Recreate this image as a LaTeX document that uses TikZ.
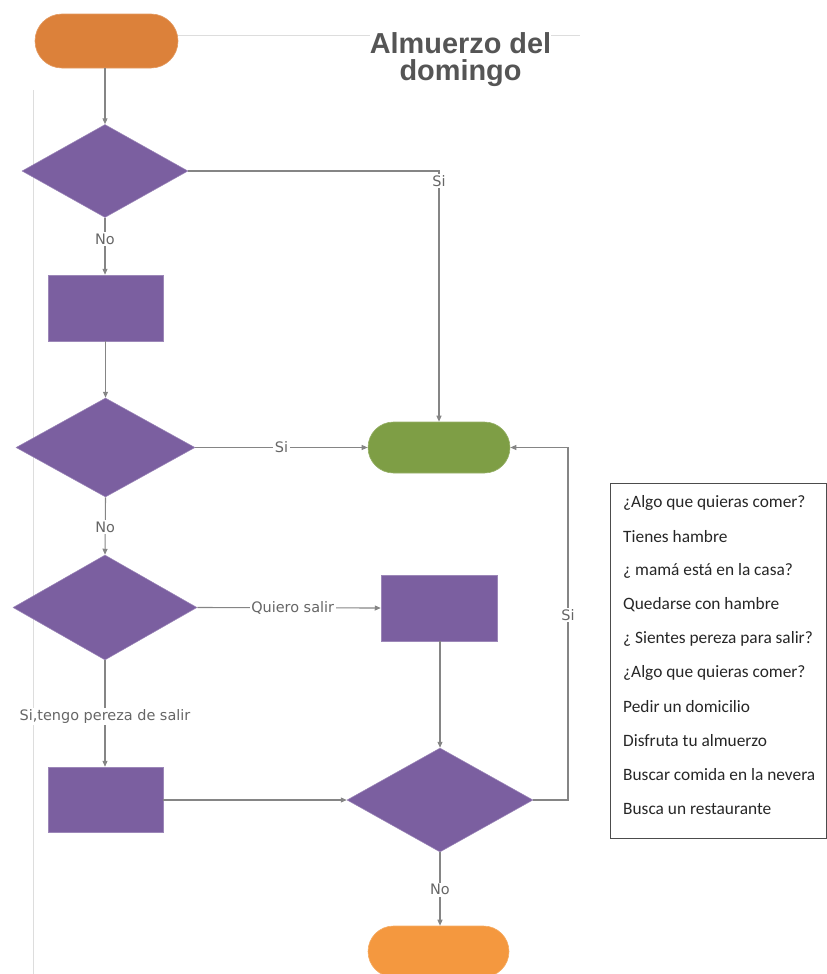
\documentclass[tikz,border=0pt]{standalone}
\usepackage{fontspec}
\setmainfont{Liberation Sans}
\newfontfamily\labelfont{DejaVu Sans}
\newfontfamily\legendfont{Carlito}
\usetikzlibrary{shapes.geometric,shapes.misc,arrows.meta}

\definecolor{purpleshape}{HTML}{7B5FA0}
\definecolor{greenshape}{HTML}{7E9E45}
\definecolor{startorange}{HTML}{DC813A}
\definecolor{endorange}{HTML}{F4983F}
\definecolor{linegray}{HTML}{858585}
\definecolor{guidegray}{HTML}{DDDDDD}
\definecolor{textgray}{HTML}{666666}
\definecolor{titlegray}{HTML}{555555}

\tikzset{
  term/.style={rounded rectangle, inner sep=0pt, draw=#1!80!white, line width=0.6bp, fill=#1},
  decision/.style={diamond, inner sep=0pt, fill=purpleshape, draw=purpleshape!75!white, line width=0.5bp},
  process/.style={rectangle, inner sep=0pt, fill=purpleshape, draw=purpleshape!75!white, line width=0.5bp},
  conn/.style={draw=linegray, line width=1.1bp, -{Triangle[length=6bp,width=5bp]}},
  lbl/.style={fill=white, inner sep=1.5bp, text=textgray, font=\labelfont\fontsize{14.5}{16}\selectfont},
  titletext/.style={fill=white, inner sep=0pt, anchor=base, text=titlegray, font=\bfseries\fontsize{29}{31}\selectfont},
  legendtext/.style={anchor=west, inner sep=0pt, text=black!85, font=\legendfont\fontsize{17.4}{19}\selectfont},
  guide/.style={draw=guidegray, line width=1bp}
}

\begin{document}
\begin{tikzpicture}[x=1bp,y=-1bp]
  \useasboundingbox (0,0) rectangle (827,974);

  % page guides
  \draw[guide] (33,90) -- (33,974);
  \draw[guide] (178,35) -- (580,35);

  % title
  \node[titletext] (title1) at (460.5,53) {Almuerzo del};
  \node[titletext] (title2) at (460.5,80) {domingo};

  % shapes
  \node[term=startorange, minimum width=143bp, minimum height=54bp] (start) at (106.5,41) {};
  \node[decision, minimum width=166bp, minimum height=93bp] (d1) at (105,171) {};
  \node[process, minimum width=115bp, minimum height=66bp] (r1) at (105.5,308) {};
  \node[decision, minimum width=179bp, minimum height=99bp] (d2) at (105.5,447.5) {};
  \node[term=greenshape, minimum width=142bp, minimum height=51bp] (g) at (439,447.5) {};
  \node[decision, minimum width=184bp, minimum height=105bp] (d3) at (105,607.5) {};
  \node[process, minimum width=116bp, minimum height=66bp] (r2) at (439,608) {};
  \node[process, minimum width=115bp, minimum height=65bp] (r3) at (105.5,799.5) {};
  \node[decision, minimum width=186bp, minimum height=104bp] (d4) at (440,800) {};
  \node[term=endorange, minimum width=141bp, minimum height=51bp] (end) at (438.5,951.5) {};

  % connectors
  \draw[conn] (start.south -| d1.north) -- (d1.north);
  \coordinate (c1) at (g.north |- d1.east);
  \draw[conn] (d1.east) -- (c1) -- node[lbl, pos=0.04] {Si} (g.north);
  \draw[conn] (d1.south) -- node[lbl, pos=0.37] {No} (d1.south |- r1.north);
  \draw[conn] (r1.south -| d2.north) -- (d2.north);
  \draw[conn] (d2.east) -- node[lbl, pos=0.5] {Si} (g.west);
  \draw[conn] (d2.south) -- node[lbl, pos=0.52] {No} (d3.north);
  \draw[conn] (d3.east) -- node[lbl, pos=0.52] {Quiero salir} (r2.west);
  \draw[conn] (d3.south) -- node[lbl, pos=0.53] {Si,tengo pereza de salir} (d3.south |- r3.north);
  \draw[conn] (r2.south -| d4.north) -- (d4.north);
  \draw[conn] (r3.east |- d4.west) -- (d4.west);
  \coordinate (c2) at (568,800);
  \draw[conn] (d4.east) -- (c2) -- node[lbl, pos=0.525] {Si} (c2 |- g.east) -- (g.east);
  \draw[conn] (d4.south) -- node[lbl, pos=0.51] {No} (end.north -| d4.south);

  % legend
  \draw[draw=black!70, line width=1bp] (610,483) rectangle (826,838);
  \node[legendtext] (k1) at (623,503) {¿Algo que quieras comer?};
  \node[legendtext] (k2) at (623,537) {Tienes hambre};
  \node[legendtext] (k3) at (623,571) {¿ mamá está en la casa?};
  \node[legendtext] (k4) at (623,605) {Quedarse con hambre};
  \node[legendtext] (k5) at (623,639) {¿ Sientes pereza para salir?};
  \node[legendtext] (k6) at (623,673) {¿Algo que quieras comer?};
  \node[legendtext] (k7) at (623,707) {Pedir un domicilio};
  \node[legendtext] (k8) at (623,741) {Disfruta tu almuerzo};
  \node[legendtext] (k9) at (623,775) {Buscar comida en la nevera};
  \node[legendtext] (k10) at (623,809) {Busca un restaurante};
\end{tikzpicture}
\end{document}
